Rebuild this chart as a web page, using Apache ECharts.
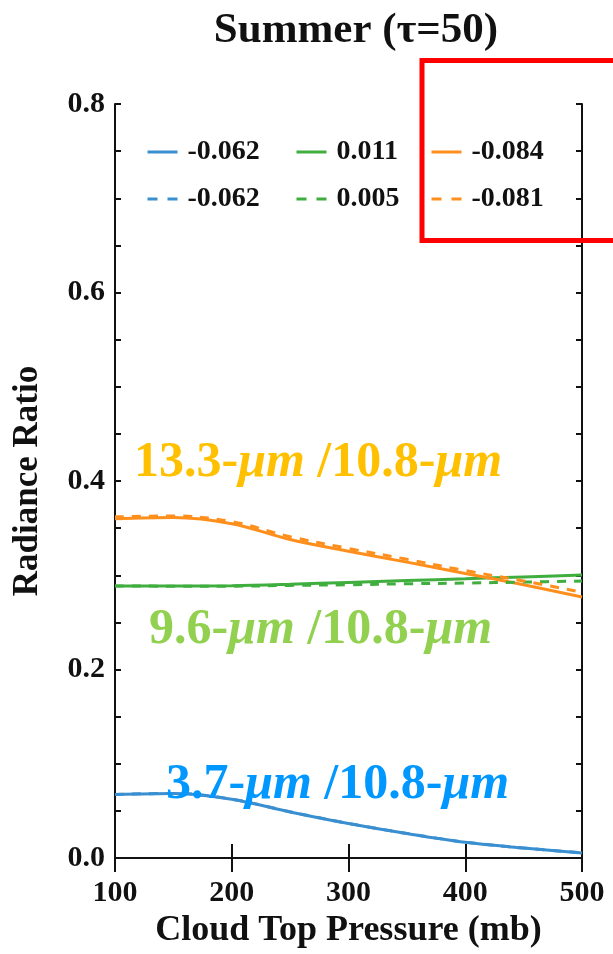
<!DOCTYPE html>
<html>
<head>
<meta charset="utf-8">
<script src="https://cdn.jsdelivr.net/npm/echarts@6/dist/echarts.min.js"></script>
<style>html,body{margin:0;padding:0;background:#fff;}#c{width:613px;height:954px;}</style>
</head>
<body>
<div id="c"></div>
<script>
// ---- data ----
const pressure = [100, 150, 200, 250, 300, 350, 400, 450, 500];
const blueSolid   = [0.0675, 0.0686, 0.0625, 0.0490, 0.0367, 0.0260, 0.0168, 0.0107, 0.0055];
const blueDashed  = [0.0675, 0.0686, 0.0626, 0.0491, 0.0368, 0.0261, 0.0169, 0.0108, 0.0056];
const greenSolid  = [0.2887, 0.2887, 0.2890, 0.2905, 0.2925, 0.2945, 0.2963, 0.2983, 0.3003];
const greenDashed = [0.2887, 0.2885, 0.2885, 0.2893, 0.2900, 0.2910, 0.2918, 0.2928, 0.2940];
const orangeSolid = [0.3600, 0.3613, 0.3548, 0.3380, 0.3255, 0.3140, 0.3020, 0.2900, 0.2770];
const orangeDashed= [0.3620, 0.3630, 0.3570, 0.3410, 0.3285, 0.3170, 0.3050, 0.2940, 0.2820];
const legendLabels = {bs: '-0.062', gs: '0.011', os: '-0.084', bd: '-0.062', gd: '0.005', od: '-0.081'};
const yTicks = [0, 0.2, 0.4, 0.6, 0.8];
const xTicks = [100, 200, 300, 400, 500];

const FONT = 'Liberation Serif';
const cBlue = '#3a8fd0', cGreen = '#3fae3f', cOrange = '#ff8f1c';
const colorOf = {bs: cBlue, bd: cBlue, gs: cGreen, gd: cGreen, os: cOrange, od: cOrange};

function pts(arr) { return pressure.map((p, i) => [p, arr[i]]); }
function mk(id, arr, color, dashed) {
  return {
    name: id, type: 'line', data: pts(arr), smooth: 0.35, symbol: 'none',
    xAxisIndex: 0, yAxisIndex: 0,
    lineStyle: {color: color, width: 3, type: dashed ? [9, 8] : 'solid'},
    itemStyle: {color: color}, z: dashed ? 3 : 2
  };
}
function lg(id, left, top, dashed) {
  return {
    data: [id], left: left, top: top, padding: 0, itemWidth: 30, itemHeight: 14, selectedMode: false,
    formatter: n => legendLabels[n],
    itemStyle: {opacity: 0},
    lineStyle: {color: colorOf[id], width: 3, type: dashed ? [10, 10] : 'solid'},
    textStyle: {fontFamily: FONT, fontWeight: 'bold', fontSize: 28, color: '#111', padding: [0, 0, 0, 5]}
  };
}

function rt(t, color) {
  return {
    text: t, fill: color, verticalAlign: 'middle',
    rich: {n: {fontFamily: FONT, fontWeight: 'bold', fontSize: 50, fill: color},
           i: {fontFamily: FONT, fontWeight: 'bold', fontStyle: 'italic', fontSize: 50, fill: color}}
  };
}

const chart = echarts.init(document.getElementById('c'));
const axisLabelStyle = {fontFamily: FONT, fontWeight: 'bold', fontSize: 30, color: '#111'};
chart.setOption({
  animation: false,
  backgroundColor: '#fff',
  title: {
    text: 'Summer (τ=50)', left: 351, top: 4, textAlign: 'center',
    textStyle: {fontFamily: FONT, fontWeight: 'bold', fontSize: 43, color: '#111'}
  },
  grid: {left: 115, right: 31, top: 104, bottom: 88},
  legend: [lg('bs', 146, 138, false), lg('gs', 295, 138, false), lg('os', 430, 138, false),
           lg('bd', 146, 185, true), lg('gd', 295, 185, true), lg('od', 430, 185, true)],
  xAxis: [{
    type: 'value', min: xTicks[0], max: xTicks[xTicks.length - 1], interval: 100, position: 'bottom',
    name: 'Cloud Top Pressure (mb)', nameLocation: 'middle', nameGap: 52,
    nameTextStyle: {fontFamily: FONT, fontWeight: 'bold', fontSize: 36, color: '#111'},
    axisLine: {lineStyle: {color: '#111', width: 2}},
    axisTick: {inside: true, length: 14, lineStyle: {color: '#111', width: 2}},
    axisLabel: Object.assign({margin: 20}, axisLabelStyle),
    splitLine: {show: false}
  }, {
    type: 'value', min: 100, max: 500, interval: 100, position: 'top',
    axisLine: {lineStyle: {color: '#111', width: 2}},
    axisTick: {inside: true, length: 14, lineStyle: {color: '#111', width: 2}},
    axisLabel: {show: false}, splitLine: {show: false}
  }],
  yAxis: [{
    type: 'value', min: yTicks[0], max: yTicks[yTicks.length - 1], interval: 0.2, position: 'left',
    name: 'Radiance Ratio', nameLocation: 'middle', nameGap: 70,
    nameTextStyle: {fontFamily: FONT, fontWeight: 'bold', fontSize: 35, color: '#111'},
    axisLine: {lineStyle: {color: '#111', width: 2}},
    axisTick: {inside: true, length: 6, lineStyle: {color: '#111', width: 2}},
    minorTick: {show: true, splitNumber: 4, length: 6, lineStyle: {color: '#111', width: 2}},
    axisLabel: Object.assign({margin: 10, formatter: v => v.toFixed(1)}, axisLabelStyle),
    splitLine: {show: false}, minorSplitLine: {show: false}
  }, {
    type: 'value', min: 0, max: 0.8, interval: 0.2, position: 'right',
    axisLine: {lineStyle: {color: '#111', width: 2}},
    axisTick: {inside: true, length: 6, lineStyle: {color: '#111', width: 2}},
    minorTick: {show: true, splitNumber: 4, length: 6, lineStyle: {color: '#111', width: 2}},
    axisLabel: {show: false}, splitLine: {show: false}, minorSplitLine: {show: false}
  }],
  series: [
    mk('bs', blueSolid, cBlue, false), mk('gs', greenSolid, cGreen, false), mk('os', orangeSolid, cOrange, false),
    mk('bd', blueDashed, cBlue, true), mk('gd', greenDashed, cGreen, true), mk('od', orangeDashed, cOrange, true)
  ],
  graphic: [
    {type: 'text', x: 134, y: 463, z: 10, style: rt('{n|13.3-}{i|μm}{n| /10.8-}{i|μm}', '#ffc000')},
    {type: 'text', x: 149, y: 630, z: 10, style: rt('{n|9.6-}{i|μm}{n| /10.8-}{i|μm}', '#92d050')},
    {type: 'text', x: 166, y: 785, z: 10, style: rt('{n|3.7-}{i|μm}{n| /10.8-}{i|μm}', '#0098ff')},
    {type: 'rect', z: 20, shape: {x: 422, y: 60.5, width: 260, height: 180},
      style: {fill: 'none', stroke: '#ff0000', lineWidth: 5}}
  ]
});
</script>
</body>
</html>
